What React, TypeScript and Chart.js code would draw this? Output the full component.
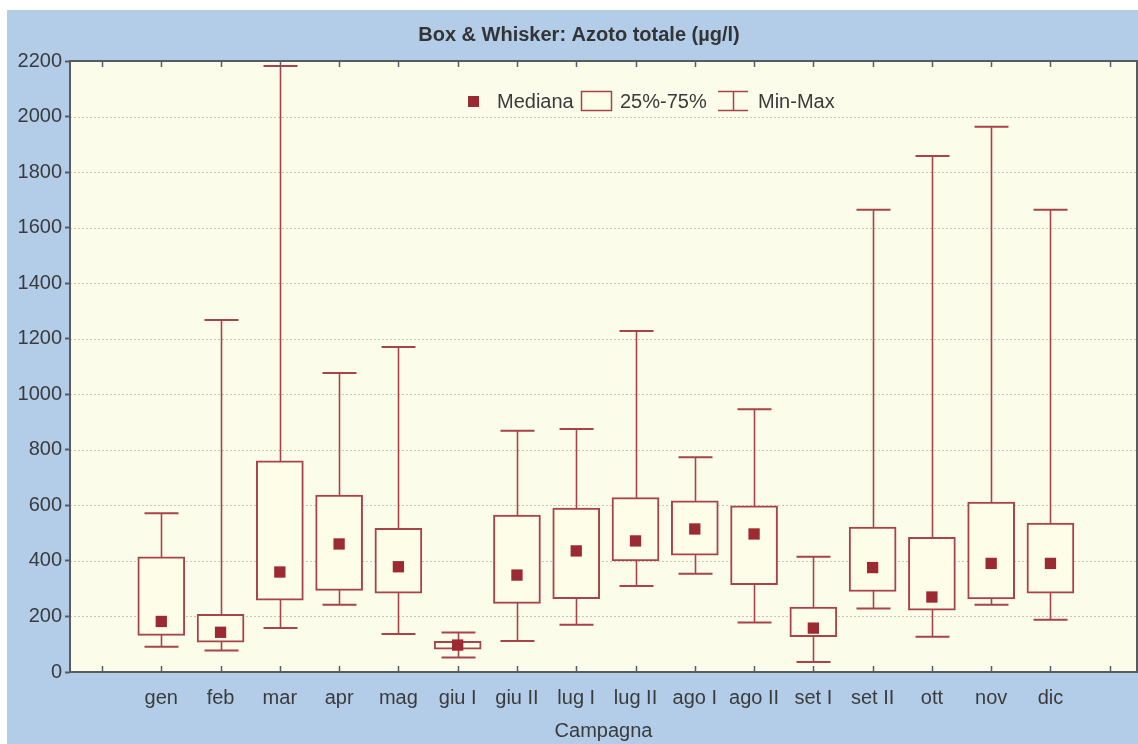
import React, { useEffect, useRef } from 'react';
import { Chart, registerables } from 'chart.js';

Chart.register(...registerables);

// ---- Data ----
const categories = ['gen', 'feb', 'mar', 'apr', 'mag', 'giu I', 'giu II', 'lug I', 'lug II', 'ago I', 'ago II', 'set I', 'set II', 'ott', 'nov', 'dic'];
const minValues = [91, 77, 158, 242, 137, 52, 112, 170, 310, 354, 178, 36, 229, 127, 242, 188];
const q1Values = [132, 107, 259, 294, 284, 82, 247, 264, 400, 421, 314, 127, 290, 223, 263, 284];
const medianValues = [182, 143, 360, 461, 379, 97, 349, 436, 472, 515, 497, 158, 376, 270, 391, 391];
const q3Values = [415, 208, 760, 637, 517, 110, 565, 590, 628, 616, 598, 234, 522, 485, 612, 536];
const maxValues = [572, 1267, 2182, 1077, 1170, 142, 869, 875, 1228, 773, 946, 415, 1664, 1858, 1963, 1664];
const yTickValues = [0, 200, 400, 600, 800, 1000, 1200, 1400, 1600, 1800, 2000, 2200];
const slotLabels = ['', ...categories, ''];

const titleText = 'Box & Whisker: Azoto totale (µg/l)';
const xAxisTitle = 'Campagna';
const legendLabels = ['Mediana', '25%-75%', 'Min-Max'];

// ---- Styles ----
const FONT = '"Liberation Sans", Arial, sans-serif';
const TEXT = '#3a3b3d';
const BLUE = '#b3cde8';
const CREAM = '#fcfcea';
const BOX_FILL = '#fefde8';
const RED = '#9c2a32';
const BOX_RED = '#a7434a';
const AXIS = '#585c60';

const decorPlugin = {
  id: 'decor',
  beforeDraw(chart: any) {
    const { ctx, chartArea: a } = chart;
    ctx.save();
    ctx.fillStyle = '#ffffff';
    ctx.fillRect(0, 0, chart.width, chart.height);
    ctx.fillStyle = BLUE;
    ctx.fillRect(7, 10, chart.width - 7, chart.height - 10);
    ctx.fillStyle = CREAM;
    ctx.fillRect(a.left, a.top, a.right - a.left, a.bottom - a.top);
    ctx.restore();
  },
  beforeDatasetsDraw(chart: any) {
    const { ctx, chartArea: a, scales } = chart;
    const y = scales.y;
    const x = scales.x;
    ctx.save();
    // dotted gridlines
    ctx.strokeStyle = '#c8c6bc';
    ctx.lineWidth = 1;
    ctx.setLineDash([2, 2]);
    yTickValues.forEach((v) => {
      if (v === 0 || v === 2200) return;
      const py = Math.round(y.getPixelForValue(v)) + 0.5;
      ctx.beginPath();
      ctx.moveTo(a.left, py);
      ctx.lineTo(a.right, py);
      ctx.stroke();
    });
    ctx.setLineDash([]);
    // whiskers
    ctx.strokeStyle = BOX_RED;
    categories.forEach((_, i) => {
      const px = Math.round(x.getPixelForValue(i + 1)) + 0.5;
      const yMax = y.getPixelForValue(maxValues[i]);
      const yMin = y.getPixelForValue(minValues[i]);
      ctx.lineWidth = 1.6;
      ctx.beginPath();
      ctx.moveTo(px, yMax);
      ctx.lineTo(px, yMin);
      ctx.stroke();
      ctx.lineWidth = 2;
      ctx.beginPath();
      ctx.moveTo(px - 17, yMax);
      ctx.lineTo(px + 17, yMax);
      ctx.moveTo(px - 17, yMin);
      ctx.lineTo(px + 17, yMin);
      ctx.stroke();
    });
    ctx.restore();
  },
  afterDatasetsDraw(chart: any) {
    const { ctx, chartArea: a, scales } = chart;
    const x = scales.x;
    const y = scales.y;
    ctx.save();
    // frame
    ctx.strokeStyle = AXIS;
    ctx.lineWidth = 2;
    ctx.strokeRect(a.left, a.top, a.right - a.left, a.bottom - a.top);
    // inward ticks top & bottom
    ctx.lineWidth = 1.5;
    slotLabels.forEach((_, i) => {
      const px = Math.round(x.getPixelForValue(i)) + 0.5;
      ctx.beginPath();
      ctx.moveTo(px, a.bottom);
      ctx.lineTo(px, a.bottom - 6);
      ctx.moveTo(px, a.top);
      ctx.lineTo(px, a.top + 6);
      ctx.stroke();
    });
    // right outward ticks
    yTickValues.forEach((v) => {
      const py = y.getPixelForValue(v);
      ctx.beginPath();
      ctx.moveTo(a.right, py);
      ctx.lineTo(a.right + 5, py);
      ctx.stroke();
    });

    // legend
    const ly = 102;
    ctx.fillStyle = RED;
    ctx.fillRect(468, ly - 6, 11, 11);
    ctx.font = `20px ${FONT}`;
    ctx.fillStyle = TEXT;
    ctx.textBaseline = 'middle';
    ctx.textAlign = 'left';
    ctx.fillText(legendLabels[0], 497, ly);
    ctx.fillStyle = BOX_FILL;
    ctx.fillRect(581, 92, 30, 18);
    ctx.strokeStyle = BOX_RED;
    ctx.lineWidth = 1.5;
    ctx.strokeRect(581.5, 91.5, 30, 19);
    ctx.fillStyle = TEXT;
    ctx.fillText(legendLabels[1], 620, ly);
    ctx.beginPath();
    ctx.moveTo(718, 91.5);
    ctx.lineTo(748, 91.5);
    ctx.moveTo(733.5, 91.5);
    ctx.lineTo(733.5, 110.5);
    ctx.moveTo(718, 110.5);
    ctx.lineTo(748, 110.5);
    ctx.stroke();
    ctx.fillText(legendLabels[2], 758, ly);

    // title
    ctx.font = `bold 20px ${FONT}`;
    ctx.textAlign = 'center';
    ctx.fillStyle = '#333436';
    ctx.fillText(titleText, 579, 35);
    // x axis title
    ctx.font = `20px ${FONT}`;
    ctx.fillStyle = TEXT;
    ctx.fillText(xAxisTitle, (a.left + a.right) / 2, 731);
    ctx.restore();
  },
};

export default function App() {
  const canvasRef = useRef<HTMLCanvasElement | null>(null);

  useEffect(() => {
    document.body.style.margin = '0';
    const canvas = canvasRef.current;
    if (!canvas) return;
    const chart = new Chart(canvas, {
      type: 'bar',
      data: {
        datasets: [
          {
            type: 'scatter',
            label: 'Mediana',
            data: categories.map((_, i) => ({ x: i + 1, y: medianValues[i] })),
            pointStyle: 'rect',
            pointRadius: 8,
            pointBorderWidth: 0,
            backgroundColor: RED,
            borderColor: RED,
            order: 0,
          } as any,
          {
            type: 'bar',
            label: '25%-75%',
            data: categories.map((_, i) => ({ x: i + 1, y: [q1Values[i], q3Values[i]] })) as any,
            backgroundColor: BOX_FILL,
            borderColor: BOX_RED,
            borderWidth: 2,
            borderSkipped: false,
            barThickness: 47,
            order: 1,
          } as any,
        ],
      },
      options: {
        responsive: false,
        animation: false,
        devicePixelRatio: 1,
        layout: { autoPadding: false, padding: { top: 61, right: 1, left: 0, bottom: 0 } },
        plugins: {
          legend: { display: false },
          title: { display: false },
          tooltip: { enabled: false },
        },
        scales: {
          x: {
            type: 'linear',
            min: -0.54,
            max: 17.46,
            offset: false,
            afterBuildTicks: (scale: any) => {
              scale.ticks = slotLabels.map((_, i) => ({ value: i }));
            },
            afterFit: (scale: any) => {
              scale.height = 72;
            },
            grid: { display: false },
            border: { display: false },
            ticks: {
              autoSkip: false,
              maxRotation: 0,
              minRotation: 0,
              padding: 6,
              color: TEXT,
              font: { family: FONT, size: 20 },
              callback: (v: any) => slotLabels[Math.round(Number(v))] ?? '',
            },
          },
          y: {
            type: 'linear',
            min: 0,
            max: 2200,
            afterBuildTicks: (scale: any) => {
              scale.ticks = yTickValues.map((v) => ({ value: v }));
            },
            afterFit: (scale: any) => {
              scale.width = 70;
            },
            grid: {
              display: true,
              drawOnChartArea: false,
              drawTicks: true,
              tickLength: 5,
              tickColor: AXIS,
              tickWidth: 2,
            },
            border: { display: false },
            ticks: {
              padding: 3,
              color: TEXT,
              font: { family: FONT, size: 20 },
              callback: (v: any) => String(v),
            },
          },
        },
      } as any,
      plugins: [decorPlugin],
    });
    return () => chart.destroy();
  }, []);

  return (
    <div style={{ position: 'absolute', left: 0, top: 0, width: 1138, height: 744 }}>
      <canvas ref={canvasRef} width={1138} height={744} style={{ display: 'block', width: 1138, height: 744 }} />
    </div>
  );
}
